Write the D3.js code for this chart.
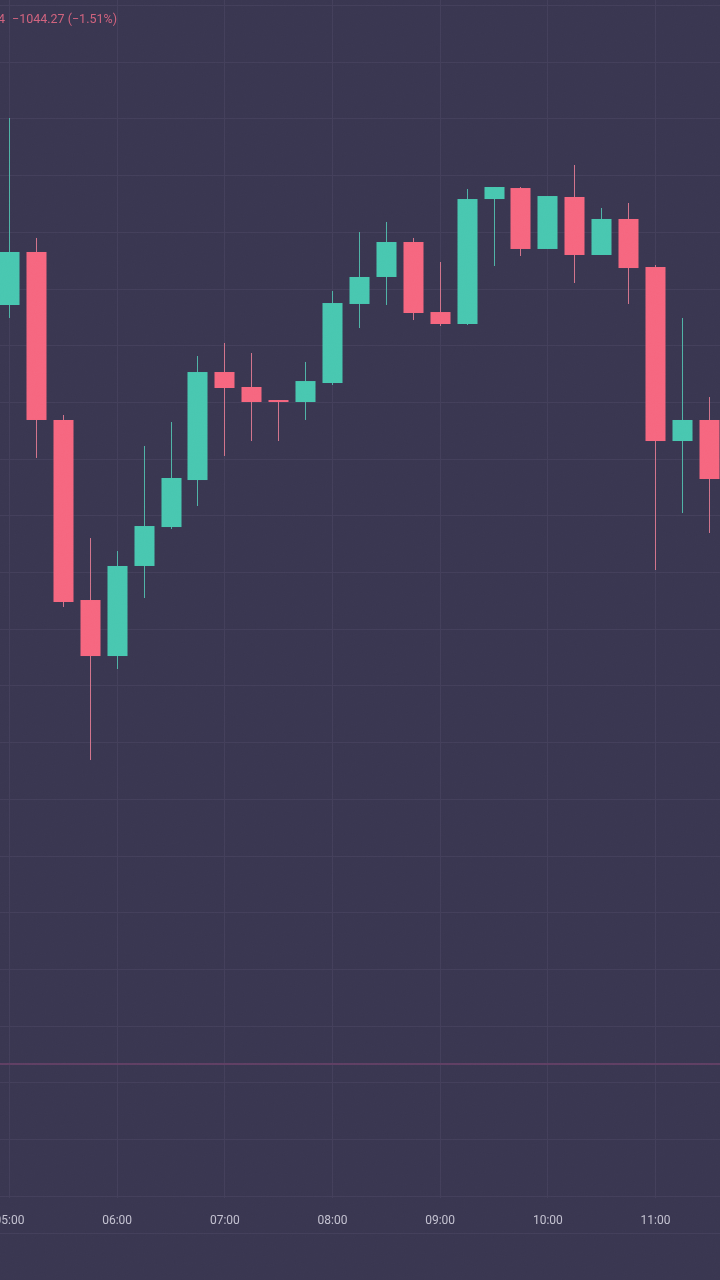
<!DOCTYPE html>
<html>
<head>
<meta charset="utf-8">
<script src="https://cdn.jsdelivr.net/npm/d3@7"></script>
<style>
  html, body { margin: 0; padding: 0; background: #393650; }
  svg { display: block; }
</style>
</head>
<body>
<svg id="chart" width="720" height="1280"></svg>
<script>
// ---- data (15-minute candles) ----
const times = ["05:00","05:15","05:30","05:45","06:00","06:15","06:30","06:45",
               "07:00","07:15","07:30","07:45","08:00","08:15","08:30","08:45",
               "09:00","09:15","09:30","09:45","10:00","10:15","10:30","10:45",
               "11:00","11:15","11:30"];
const open  = [68970.9,69064.4,68768.1,68450.6,68351.8,68510.6,68579.3,68662.2,
               68852.7,68826.3,68803.3,68799.8,68833.3,68972.7,69020.3,69082.0,
               68958.5,68937.4,69157.8,69177.2,69069.7,69161.4,69059.1,69122.6,
               69037.9,68731.0,68768.1];
const high  = [69300.7,69089.1,68776.9,68559.9,68537.0,68722.2,68764.5,68880.9,
               68903.9,68886.2,68803.3,68870.4,68995.6,69099.6,69117.3,69089.1,
               69046.7,69175.5,69179.0,69179.0,69163.1,69217.8,69142.0,69150.8,
               69041.4,68948.0,68808.6];
const low   = [68948.0,68701.1,68438.3,68168.4,68328.9,68454.1,68575.8,68616.4,
               68704.6,68731.0,68731.0,68768.1,68829.8,68930.3,68970.9,68944.4,
               68933.9,68935.6,69039.7,69057.3,69069.7,69009.7,69059.1,68972.7,
               68503.5,68604.0,68568.8];
const close = [69064.4,68768.1,68447.1,68351.8,68510.6,68581.1,68665.8,68852.7,
               68824.5,68799.8,68799.8,68836.8,68974.4,69020.3,69082.0,68956.8,
               68937.4,69157.8,69179.0,69069.7,69163.1,69059.1,69122.6,69036.1,
               68731.0,68768.1,68664.0];
const hourTicks = ["05:00","06:00","07:00","08:00","09:00","10:00","11:00"];
const refPrice = 67632.2;
const changeLabel = "\u22121044.27 (\u22121.51%)";

// ---- setup ----
const W = 720, H = 1280;
const svg = d3.select("#chart");
const parse = d3.timeParse("%Y-%m-%d %H:%M");
const toDate = t => parse("2024-05-20 " + t);

const candles = times.map((t, i) => ({
  t: toDate(t), o: open[i], h: high[i], l: low[i], c: close[i]
}));

const x = d3.scaleTime()
  .domain([toDate("05:00"), toDate("11:00")])
  .range([9, 655]);
const y = d3.scaleLinear()
  .domain([69500, 67400])
  .range([5, 5 + 56.7 * 21]);

const colors = {
  bg: "#393650", grid: "#433f5a", up: "#48c7b0", down: "#f6667f",
  upWick: "#4fb3a6", downWick: "#d2738b", text: "#c3c1d0", ref: "#5f3f63"
};

// grain filter
const defs = svg.append("defs");
const f = defs.append("filter").attr("id", "grain").attr("x", 0).attr("y", 0).attr("width", "100%").attr("height", "100%");
f.append("feTurbulence").attr("type", "fractalNoise").attr("baseFrequency", 0.9).attr("numOctaves", 2).attr("seed", 3).attr("result", "n");
f.append("feColorMatrix").attr("type", "saturate").attr("values", 0);

svg.append("rect").attr("width", W).attr("height", H).attr("fill", colors.bg);

const chartBottom = 1198;
const plot = svg.append("g");

// horizontal grid
plot.append("g").selectAll("line")
  .data(y.ticks(25).filter(v => y(v) <= chartBottom))
  .join("line")
  .attr("x1", 0).attr("x2", W)
  .attr("y1", d => Math.round(y(d)) + 0.5).attr("y2", d => Math.round(y(d)) + 0.5)
  .attr("stroke", colors.grid).attr("stroke-width", 1);

// vertical grid
const tickDates = hourTicks.map(toDate);
plot.append("g").selectAll("line")
  .data(tickDates)
  .join("line")
  .attr("x1", d => Math.round(x(d)) + 0.5).attr("x2", d => Math.round(x(d)) + 0.5)
  .attr("y1", 0).attr("y2", chartBottom)
  .attr("stroke", colors.grid).attr("stroke-width", 1);

// axis separator
svg.append("line")
  .attr("x1", 0).attr("x2", W).attr("y1", 1233.5).attr("y2", 1233.5)
  .attr("stroke", colors.grid).attr("stroke-width", 1);

// reference line
plot.append("line")
  .attr("x1", 0).attr("x2", W)
  .attr("y1", y(refPrice)).attr("y2", y(refPrice))
  .attr("stroke", colors.ref).attr("stroke-width", 2);

// candles
const step = x(toDate("05:15")) - x(toDate("05:00"));
const bodyW = Math.round(step * 0.76);
const g = plot.append("g").selectAll("g").data(candles).join("g");
g.append("line")
  .attr("x1", d => Math.round(x(d.t)) + 0.5).attr("x2", d => Math.round(x(d.t)) + 0.5)
  .attr("y1", d => y(d.h)).attr("y2", d => y(d.l))
  .attr("stroke", d => d.c >= d.o ? colors.upWick : colors.downWick)
  .attr("stroke-width", 1);
g.append("rect")
  .attr("x", d => Math.round(x(d.t)) - bodyW / 2 + 0.5)
  .attr("width", bodyW)
  .attr("y", d => y(Math.max(d.o, d.c)))
  .attr("height", d => Math.max(1, Math.abs(y(d.o) - y(d.c))))
  .attr("fill", d => d.c >= d.o ? colors.up : colors.down);

// time axis
const xAxis = d3.axisBottom(x).tickValues(tickDates).tickFormat(d3.timeFormat("%H:%M")).tickSize(0);
const ax = svg.append("g").attr("transform", `translate(0,${1212})`).call(xAxis);
ax.select(".domain").remove();
ax.selectAll("text")
  .attr("fill", colors.text)
  .attr("font-family", "Roboto, 'Noto Sans', sans-serif")
  .attr("font-size", 12);

// header change label
svg.append("text")
  .attr("x", 12).attr("y", 23)
  .attr("fill", "#d0627d")
  .attr("font-family", "Roboto, 'Noto Sans', sans-serif")
  .attr("font-size", 12.5)
  .text(changeLabel);
svg.append("text")
  .attr("x", 5).attr("y", 23).attr("text-anchor", "end")
  .attr("fill", "#d0627d")
  .attr("font-family", "Roboto, 'Noto Sans', sans-serif")
  .attr("font-size", 12.5)
  .text("68,113.24");

// film grain overlay
svg.append("rect").attr("width", W).attr("height", H)
  .attr("filter", "url(#grain)").attr("opacity", 0.06)
  .style("mix-blend-mode", "overlay").attr("pointer-events", "none");
</script>
</body>
</html>
